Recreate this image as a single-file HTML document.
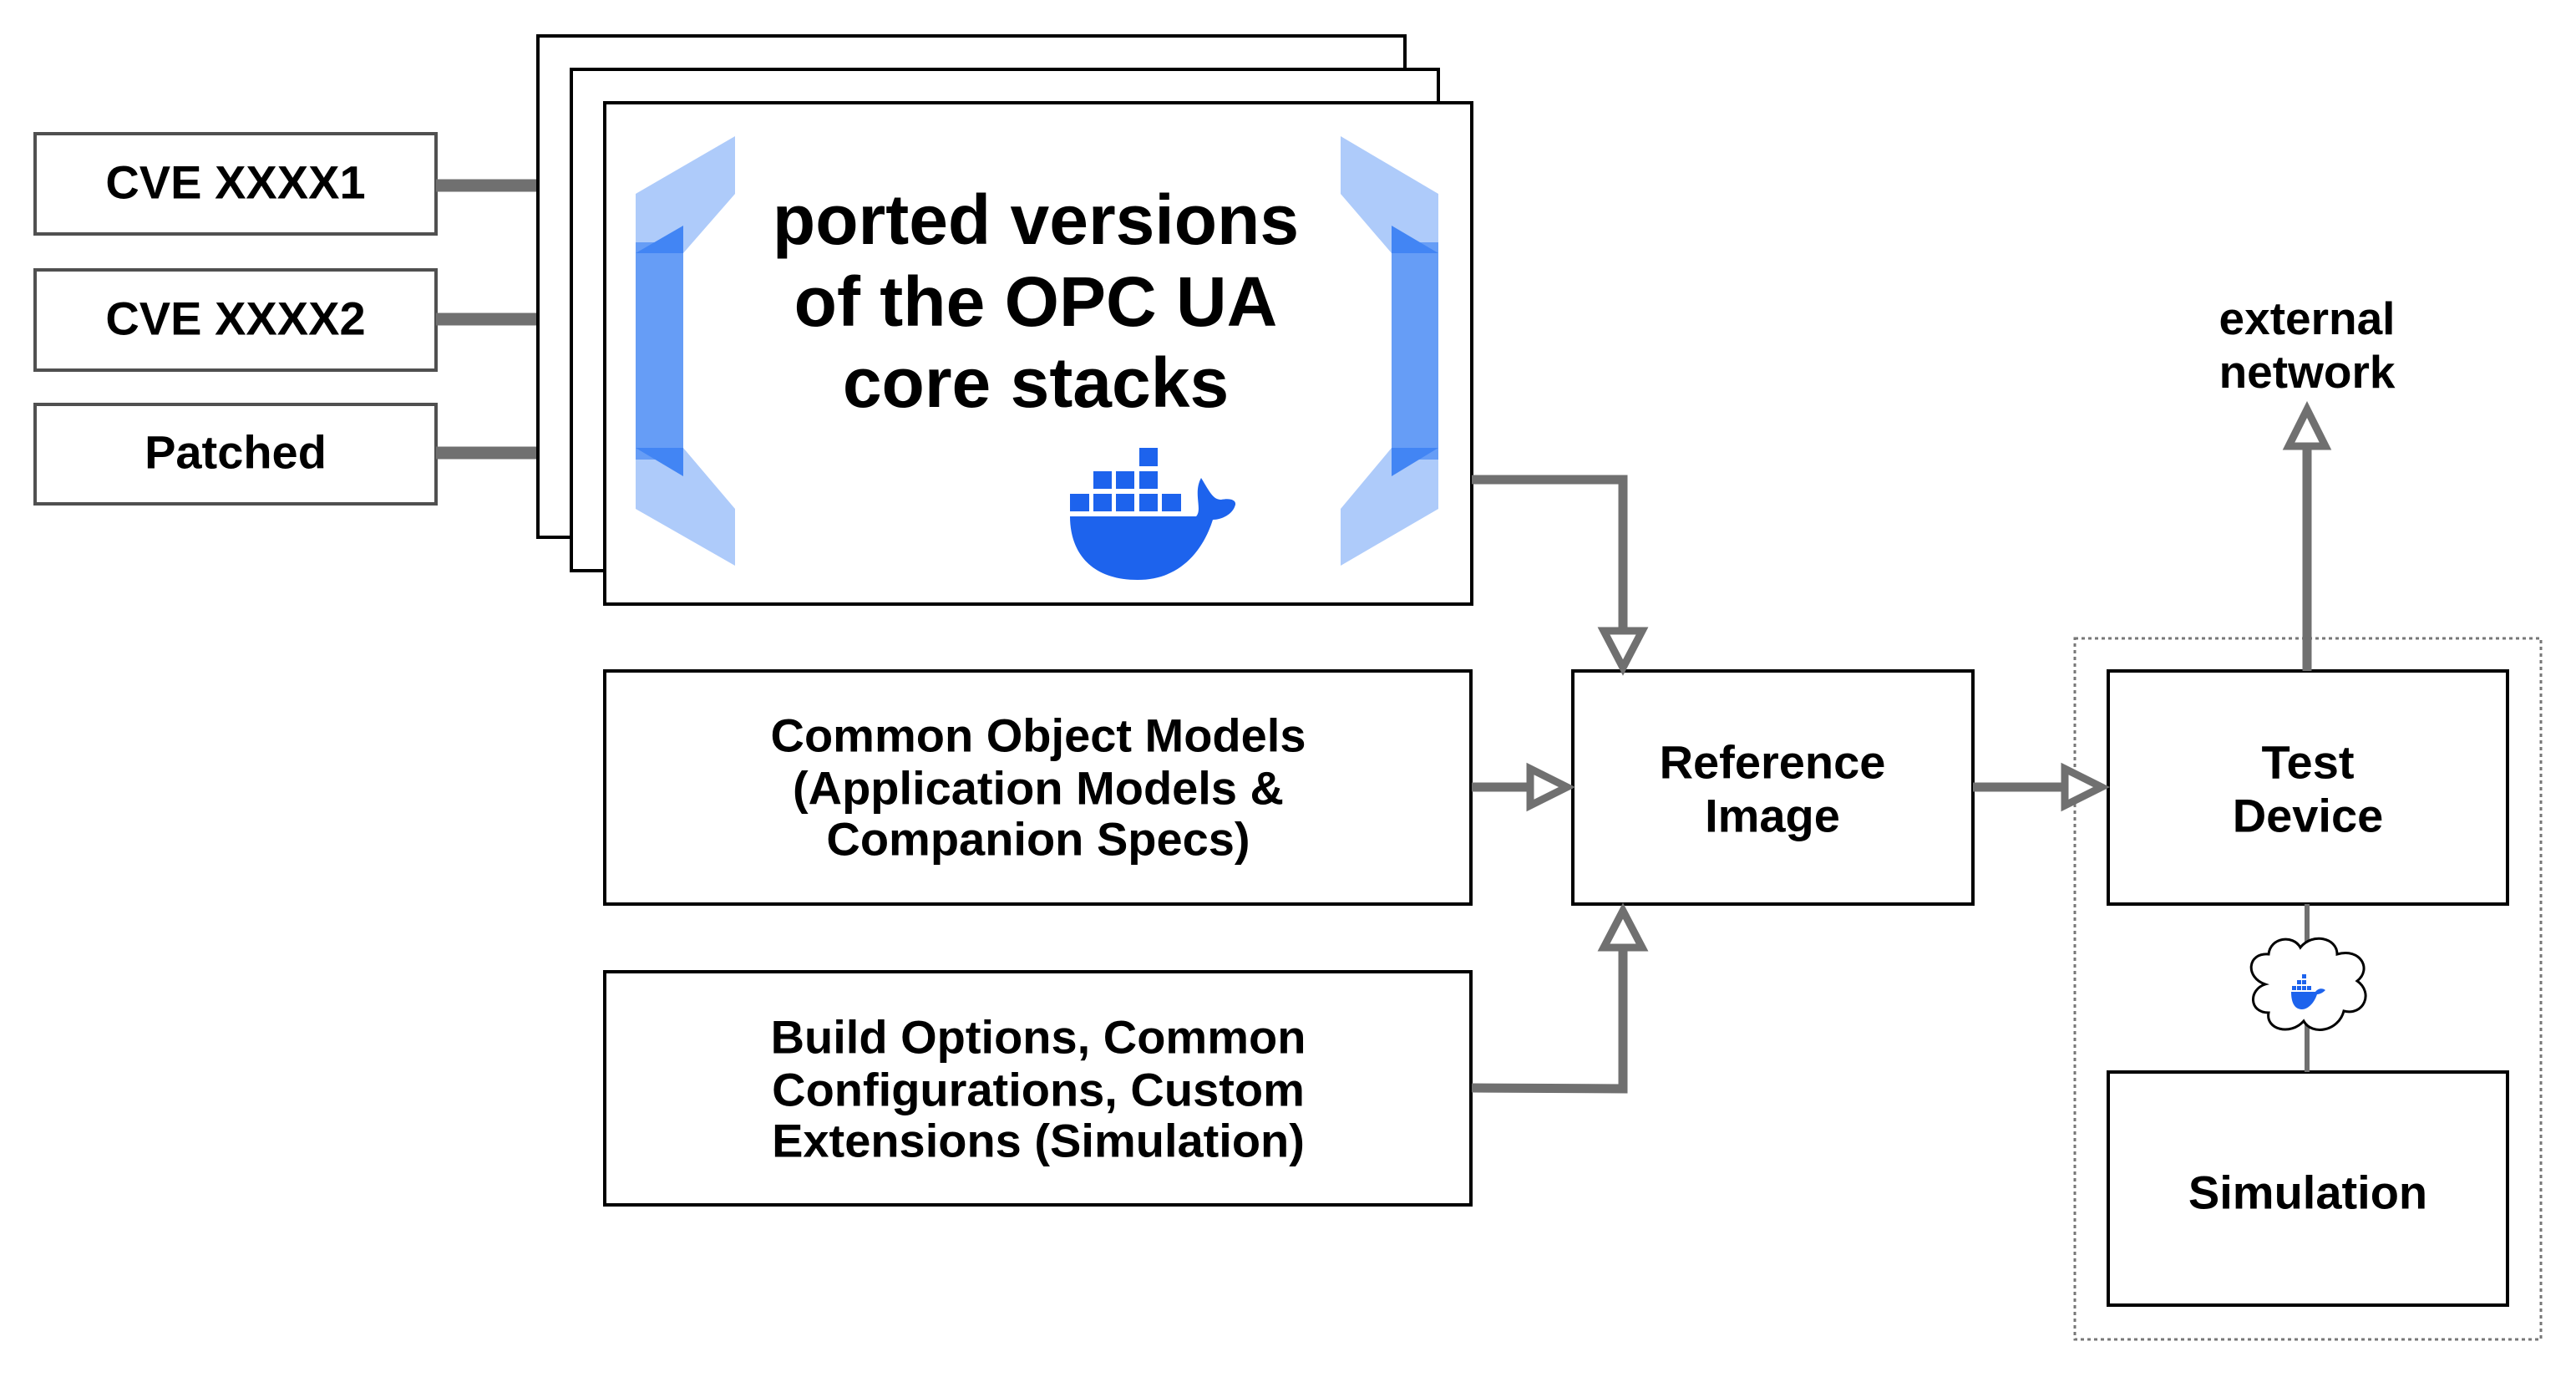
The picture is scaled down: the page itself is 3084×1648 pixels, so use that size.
<!DOCTYPE html>
<html><head><meta charset="utf-8"><style>
html,body{margin:0;padding:0;background:#fff;width:3084px;height:1648px;overflow:hidden}
svg{display:block}
text{font-family:"Liberation Sans",sans-serif;font-weight:bold;fill:#000;text-anchor:middle;dominant-baseline:central}
</style></head><body>
<svg width="3084" height="1648" viewBox="0 0 3084 1648" xmlns="http://www.w3.org/2000/svg">
<g fill="#fff" stroke="#505050" stroke-width="4">
<rect x="42" y="160" width="480" height="120"/>
<rect x="42" y="323" width="480" height="120"/>
<rect x="42" y="484" width="480" height="119"/>
</g>
<text x="282" y="218" font-size="56">CVE XXXX1</text>
<text x="282" y="381" font-size="56">CVE XXXX2</text>
<text x="282" y="541" font-size="56">Patched</text>
<g stroke="#707070" stroke-width="15">
<line x1="522" y1="222" x2="644" y2="222"/>
<line x1="522" y1="382" x2="684" y2="382"/>
<line x1="522" y1="542" x2="724" y2="542"/>
</g>
<g fill="#fff" stroke="#000" stroke-width="4">
<rect x="644" y="43" width="1038" height="600"/>
<rect x="684" y="83" width="1038" height="600"/>
<rect x="724" y="123" width="1038" height="600"/>
</g>
<polygon points="880,163 880,232 818,303 761,303 761,232" fill="#aecbfa"/>
<polygon points="880,677 880,609 818,536 761,536 761,609" fill="#aecbfa"/>
<rect x="761" y="290" width="57" height="260" fill="#669df6"/>
<polygon points="818,270 818,303 761,303" fill="#4285f4"/>
<polygon points="818,570 818,536 761,536" fill="#4285f4"/>
<polygon points="1605,163 1605,232 1666,303 1722,303 1722,232" fill="#aecbfa"/>
<polygon points="1605,677 1605,609 1666,536 1722,536 1722,609" fill="#aecbfa"/>
<rect x="1666" y="290" width="56" height="260" fill="#669df6"/>
<polygon points="1666,270 1666,303 1722,303" fill="#4285f4"/>
<polygon points="1666,570 1666,536 1722,536" fill="#4285f4"/>
<text x="1240" y="263" font-size="84">ported versions</text>
<text x="1240" y="361" font-size="84">of the OPC UA</text>
<text x="1240" y="458" font-size="84">core stacks</text>
<g fill="#1d63ed">
<rect x="1364" y="536" width="22" height="22"/>
<rect x="1309" y="564" width="22" height="21"/><rect x="1336" y="564" width="22" height="21"/><rect x="1364" y="564" width="22" height="21"/>
<rect x="1281" y="591" width="23" height="21"/><rect x="1309" y="591" width="22" height="21"/><rect x="1336" y="591" width="22" height="21"/><rect x="1364" y="591" width="22" height="21"/><rect x="1391" y="591" width="23" height="21"/>
<path d="M1281 618 H1432 C1440 610 1428 590 1438 572 C1448 588 1452 598 1462 598 C1472 596 1480 598 1479 604 C1476 616 1462 622 1452 622 C1440 660 1412 694 1362 694 C1305 694 1281 660 1281 618 Z"/>
</g>
<g fill="#fff" stroke="#000" stroke-width="4">
<rect x="724" y="803" width="1037" height="279"/>
<rect x="724" y="1163" width="1037" height="279"/>
<rect x="1883" y="803" width="479" height="279"/>
<rect x="2524" y="803" width="478" height="279"/>
<rect x="2524" y="1283" width="478" height="279"/>
</g>
<rect x="2484" y="764" width="558" height="839" fill="none" stroke="#777" stroke-width="3" stroke-dasharray="4,4"/>
<text x="1243" y="880" font-size="56">Common Object Models</text>
<text x="1243" y="943" font-size="56">(Application Models &amp;</text>
<text x="1243" y="1004" font-size="56">Companion Specs)</text>
<text x="1243" y="1241" font-size="56">Build Options, Common</text>
<text x="1243" y="1304" font-size="56">Configurations, Custom</text>
<text x="1243" y="1365" font-size="56">Extensions (Simulation)</text>
<text x="2122" y="912" font-size="56">Reference</text>
<text x="2122" y="976" font-size="56">Image</text>
<text x="2763" y="912" font-size="56">Test</text>
<text x="2763" y="976" font-size="56">Device</text>
<text x="2763" y="1427" font-size="56">Simulation</text>
<text x="2762" y="381" font-size="55">external</text>
<text x="2762" y="445" font-size="55">network</text>
<g fill="none" stroke="#707070" stroke-width="11">
<polyline points="1762,574 1943,574 1943,755"/>
<line x1="1762" y1="942" x2="1830" y2="942"/>
<polyline points="1762,1302 1943,1303 1943,1135"/>
<line x1="2362" y1="942" x2="2470" y2="942"/>
<line x1="2762" y1="803" x2="2762" y2="534"/>
</g>
<g fill="#fff" stroke="#707070" stroke-width="9">
<polygon points="1920,755 1966,755 1943,799"/>
<polygon points="1832,920 1832,964 1876,942"/>
<polygon points="1920,1134 1966,1134 1943,1090"/>
<polygon points="2472,920 2472,964 2516,942"/>
<polygon points="2740,534 2784,534 2762,490"/>
</g>
<line x1="2762" y1="1082" x2="2762" y2="1283" stroke="#707070" stroke-width="6"/>
<path d="M2712 1178 C2688 1170 2690 1140 2716 1142 C2718 1122 2745 1118 2754 1134 C2768 1116 2798 1122 2798 1142 C2826 1134 2840 1160 2822 1174 C2842 1188 2830 1216 2806 1210 C2800 1234 2768 1240 2758 1222 C2742 1240 2712 1232 2716 1212 C2692 1212 2692 1184 2712 1178 Z" fill="#fff" stroke="#000" stroke-width="3"/>
<g fill="#1d63ed">
<rect x="2756" y="1166" width="5" height="5"/>
<rect x="2750" y="1173" width="5" height="5"/><rect x="2756" y="1173" width="5" height="5"/>
<rect x="2744" y="1180" width="5" height="5"/><rect x="2750" y="1180" width="5" height="5"/><rect x="2756" y="1180" width="5" height="5"/><rect x="2762" y="1180" width="5" height="5"/>
<path d="M2743 1187 H2772 C2775 1183 2780 1182 2784 1185 C2780 1189 2776 1190 2774 1190 C2770 1202 2762 1208 2756 1208 C2746 1208 2743 1198 2743 1187 Z"/>
</g>
</svg>
</body></html>
